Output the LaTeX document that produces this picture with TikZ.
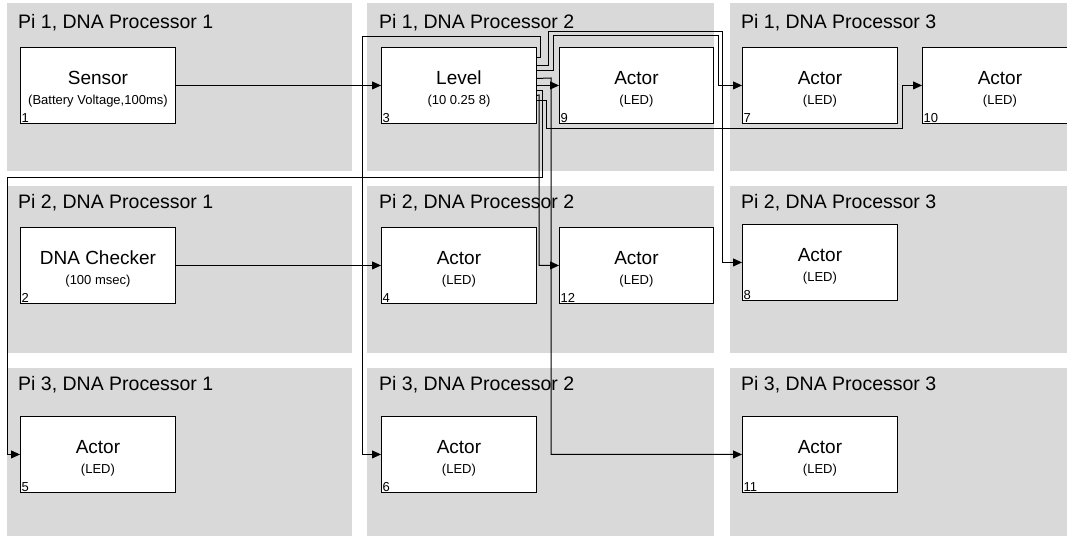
\documentclass[tikz,border=0pt]{standalone}
\usepackage{fontspec}
\setmainfont{Liberation Sans}
\usetikzlibrary{arrows.meta}

\definecolor{panelgray}{RGB}{217,217,217}
\newcommand{\blk}[2]{\rule{0pt}{20pt}#1\\{\fontsize{13}{14}\selectfont #2}}

\tikzset{
  panel/.style={fill=panelgray},
  ptitle/.style={anchor=base west, inner sep=0pt, font=\fontsize{19.5}{21}\selectfont},
  block/.style={draw, fill=white, line width=0.9pt, anchor=north west,
    minimum width=155pt, minimum height=76pt, inner sep=0pt, align=center,
    font=\fontsize{19}{20}\selectfont},
  num/.style={anchor=south west, inner sep=1.5pt, font=\fontsize{13}{13}\selectfont},
  link/.style={line width=1pt, -{Triangle[length=9pt,width=8pt]}},
}

\begin{document}
\begin{tikzpicture}[x=1pt,y=-1pt]
  \useasboundingbox (0,0) rectangle (1067,535);
  \clip (0,0) rectangle (1067,535);
  % processor panels
  \foreach \px/\pw in {7/345, 367/347, 730/345}
    \foreach \py/\ph in {3/168, 186/167, 368/175}
      \fill[panel] (\px,\py) rectangle ++(\pw,\ph);
  \node[ptitle] (t11) at (18,29)  {Pi 1, DNA Processor 1};
  \node[ptitle] (t12) at (379,29) {Pi 1, DNA Processor 2};
  \node[ptitle] (t13) at (741,29) {Pi 1, DNA Processor 3};
  \node[ptitle] (t21) at (18,208)  {Pi 2, DNA Processor 1};
  \node[ptitle] (t22) at (379,208) {Pi 2, DNA Processor 2};
  \node[ptitle] (t23) at (741,208) {Pi 2, DNA Processor 3};
  \node[ptitle] (t31) at (18,390)  {Pi 3, DNA Processor 1};
  \node[ptitle] (t32) at (379,390) {Pi 3, DNA Processor 2};
  \node[ptitle] (t33) at (741,390) {Pi 3, DNA Processor 3};

  % blocks
  \node[block, label={[num]south west:1}] (sen) at (20,47) {\blk{Sensor}{(Battery Voltage,100ms)}};
  \node[block, label={[num]south west:3}] (lvl) at (381,47) {\blk{Level}{(10 0.25 8)}};
  \node[block, minimum width=154pt, label={[num]south west:9}] (a9) at (559,47) {\blk{Actor}{(LED)}};
  \node[block, label={[num]south west:7}] (a7) at (742,47) {\blk{Actor}{(LED)}};
  \node[block, label={[num]south west:10}] (a10) at (922,47) {\blk{Actor}{(LED)}};
  \node[block, label={[num]south west:2}] (chk) at (20,227) {\blk{DNA Checker}{(100 msec)}};
  \node[block, label={[num]south west:4}] (a4) at (381,227) {\blk{Actor}{(LED)}};
  \node[block, minimum width=154pt, label={[num]south west:12}] (a12) at (559,227) {\blk{Actor}{(LED)}};
  \node[block, label={[num]south west:8}] (a8) at (742,224) {\blk{Actor}{(LED)}};
  \node[block, label={[num]south west:5}] (a5) at (20,416) {\blk{Actor}{(LED)}};
  \node[block, label={[num]south west:6}] (a6) at (381,416) {\blk{Actor}{(LED)}};
  \node[block, label={[num]south west:11}] (a11) at (742,416) {\blk{Actor}{(LED)}};

  % links
  \draw[link] (sen.east) -- (lvl.west);
  \draw[link] (chk.east) -- (a4.west);
  \draw[link] (lvl.east) -- (a9.west);
  \draw[link] ([yshift=28pt]lvl.east) -| (540,37) -- (362,37) |- (a6.west);
  \draw[link] ([yshift=20pt]lvl.east) -| (548,32) -- (722,32) |- (a8.west);
  \draw[link] ([yshift=15pt]lvl.east) -| (553,36) -- (718,36) |- (a7.west);
  \draw[link] ([yshift=7pt]lvl.east) -- (551,78) |- (a11.west);
  \draw[link] ([yshift=-5pt]lvl.east) -| (542,177) -- (7,177) |- (a5.west);
  \draw[link] ([yshift=-10pt]lvl.east) -- (539,95) |- (a12.west);
  \draw[link] ([yshift=-15pt]lvl.east) -| (546,128) -- (902,128) |- (a10.west);
\end{tikzpicture}
\end{document}
